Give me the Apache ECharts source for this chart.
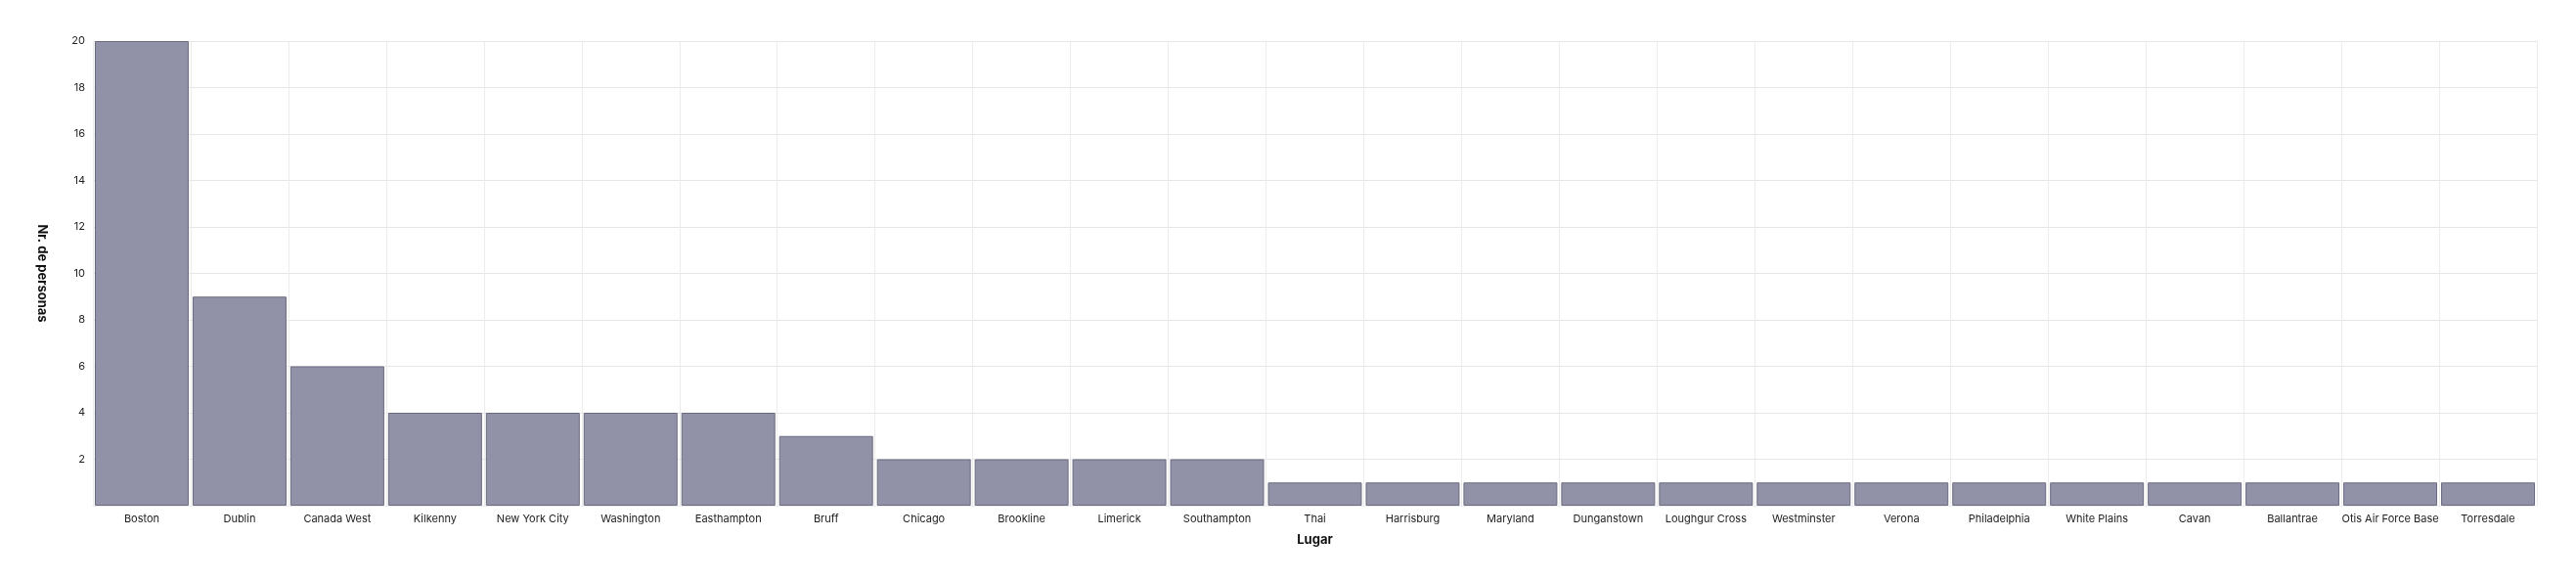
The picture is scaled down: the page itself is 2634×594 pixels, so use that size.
<!DOCTYPE html>
<html><head><meta charset="utf-8">
<script src="https://cdn.jsdelivr.net/npm/echarts@6/dist/echarts.min.js"></script>
<style>html,body{margin:0;padding:0;background:#fff}#c{width:2634px;height:594px}</style>
</head><body><div id="c"></div>
<script>
const categories = ["Boston","Dublin","Canada West","Kilkenny","New York City","Washington","Easthampton","Bruff","Chicago","Brookline","Limerick","Southampton","Thai","Harrisburg","Maryland","Dunganstown","Loughgur Cross","Westminster","Verona","Philadelphia","White Plains","Cavan","Ballantrae","Otis Air Force Base","Torresdale"];
const values = [20,9,6,4,4,4,4,3,2,2,2,2,1,1,1,1,1,1,1,1,1,1,1,1,1];
const xTitle = "Lugar";
const yTitle = "Nr. de personas";

const chart = echarts.init(document.getElementById('c'));
const font = 'Inter';
chart.setOption({
  animation: false,
  grid: {left: 95, right: 40, top: 42, bottom: 77, containLabel: false},
  xAxis: {
    type: 'category', data: categories,
    name: xTitle, nameLocation: 'middle', nameGap: 29,
    nameTextStyle: {fontFamily: font, fontSize: 13, fontWeight: 'bold', color: '#111'},
    axisLine: {show: true, lineStyle: {color: '#ececec', width: 1}},
    axisTick: {show: false},
    axisLabel: {fontFamily: font, fontSize: 11, color: '#222', margin: 8, interval: 0},
    splitLine: {show: true, lineStyle: {color: '#ececec', width: 1}}
  },
  yAxis: {
    type: 'value', min: 0, max: 20, interval: 2,
    name: yTitle, nameLocation: 'middle', nameGap: 46, nameRotate: -90,
    nameTextStyle: {fontFamily: font, fontSize: 13, fontWeight: 'bold', color: '#111'},
    axisLine: {show: false}, axisTick: {show: false},
    axisLabel: {fontFamily: font, fontSize: 11, color: '#222', margin: 8, showMinLabel: false},
    splitLine: {show: true, lineStyle: {color: '#e6e6e6', width: 1}}
  },
  series: [{
    type: 'bar', data: values, barCategoryGap: '4%',
    itemStyle: {color: '#9192a7', borderColor: '#6b6b80', borderWidth: 1}
  }]
});
</script></body></html>
